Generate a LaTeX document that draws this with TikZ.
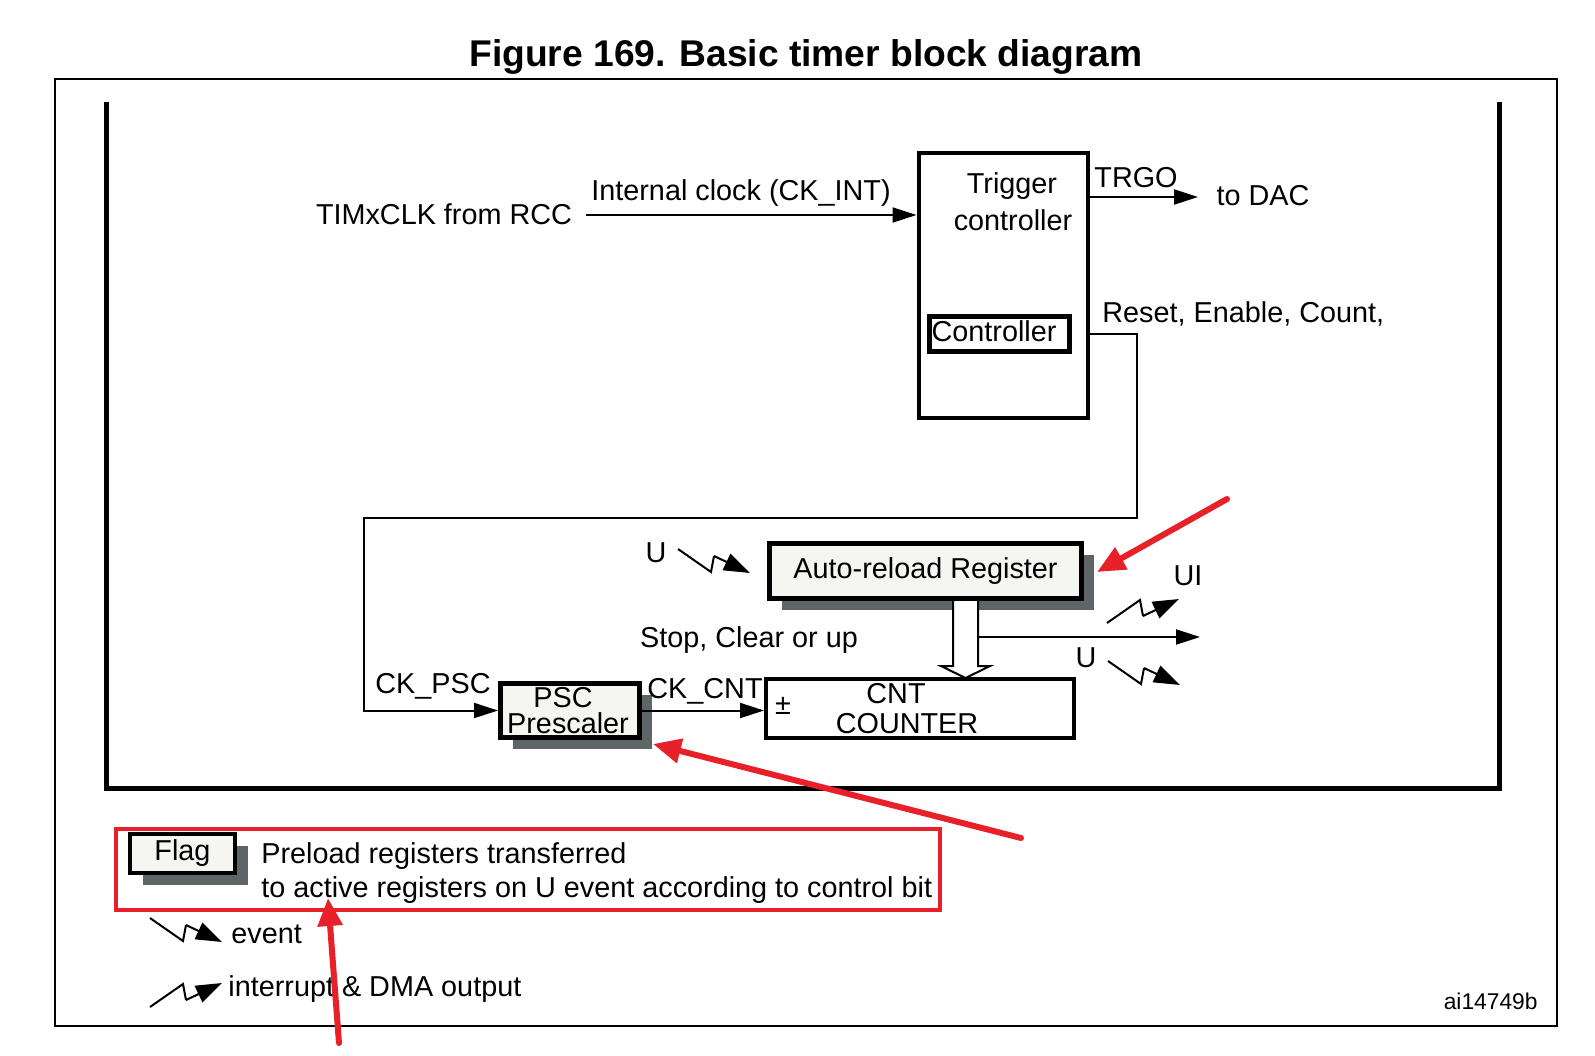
\documentclass[tikz,border=0pt]{standalone}
\usepackage{fontspec}
\setmainfont{Liberation Sans}
\usetikzlibrary{arrows.meta,shadows,calc}
\definecolor{boxfill}{HTML}{F5F5F2}
\definecolor{shgray}{HTML}{5E6566}
\definecolor{mkred}{HTML}{E8202A}
\tikzset{
  txt/.style={inner sep=0pt,font=\fontsize{14.4}{17}\selectfont},
  thinline/.style={line width=1pt},
  arrowtip/.style={-{Triangle[length=12pt,width=7.5pt]}},
  regbox/.style={draw,fill=boxfill,line width=2.5pt,inner sep=0pt,font=\fontsize{14.4}{17}\selectfont,
    drop shadow={shadow xshift=6.25pt,shadow yshift=-5.75pt,fill=shgray,opacity=1}},
  plainbox/.style={draw,line width=2pt,inner sep=0pt},
  redarrow/.style={draw=mkred,line width=3pt,line cap=round,-{Triangle[length=14pt,width=12pt]}},
  evtsym/.pic={
    \draw[line width=1pt,line join=miter] (0,0) -- (33,23) -- (36,7);
    \draw[line width=1pt,-{Triangle[length=13pt,width=9pt]}] (36,7) -- (72,24);
  },
  intrsym/.pic={
    \draw[line width=1pt,line join=miter] (0,0) -- (33,-23) -- (36,-7);
    \draw[line width=1pt,-{Triangle[length=13pt,width=9pt]}] (36,-7) -- (72,-24);
  }
}
\begin{document}
\begin{tikzpicture}[x=0.5pt,y=-0.5pt]
\useasboundingbox (0,0) rectangle (1595,1055);
\fill[white] (0,0) rectangle (1595,1055);

% title
\node[txt,font=\bfseries\fontsize{18.6}{22}\selectfont,anchor=base] (title) at (806,66) {Figure 169. Basic timer block diagram};

% frames
\draw[line width=1.1pt] (55,79) rectangle (1557,1026);
\draw[line width=2.5pt] (106,102) -- (106,788) -- (1499,788) -- (1499,102);

% trigger controller
\node[plainbox,minimum width=84.5pt,minimum height=132.5pt] (trig) at (1003,285.5) {};
\node[txt,anchor=base] (trigA) at (1012,193) {Trigger};
\node[txt,anchor=base] (trigB) at (1013,230) {controller};
\node[plainbox,line width=2.5pt,minimum width=70pt,minimum height=17.5pt] (ctrl) at (999.5,334) {};
\node[txt,anchor=base] (ctrltxt) at (994,341) {Controller};

% clock input
\node[txt,anchor=base] (timx) at (444,224) {TIMxCLK from RCC};
\coordinate (clkin) at (586,215);
\draw[thinline,arrowtip] (clkin) -- (clkin -| trig.west);
\node[txt,anchor=base] (ckint) at (741,200) {Internal clock (CK\_INT)};

% TRGO
\coordinate (dac) at (1198,197);
\draw[thinline,arrowtip] (dac -| trig.east) -- (dac);
\node[txt,anchor=base] (trgo) at (1136,187) {TRGO};
\node[txt,anchor=base] (todac) at (1263,205) {to DAC};

% prescaler
\node[regbox,minimum width=69.5pt,minimum height=27pt] (psc) at (570,710.5) {};
\node[txt,anchor=base] (psctxtA) at (563,707) {PSC};
\node[txt,anchor=base] (psctxtB) at (568,733) {Prescaler};
\node[txt,anchor=base] (ckpsc) at (433,693) {CK\_PSC};

% reset path
\node[txt,anchor=base west] (rec) at (1102,322) {Reset, Enable, Count,};
\coordinate (r1) at (1137,334);
\coordinate (r2) at (1137,518);
\coordinate (r3) at (364,518);
\draw[thinline,arrowtip] (r1 -| trig.east) -- (r1) -- (r2) -- (r3) |- (psc.west);

% auto-reload
\node[regbox,minimum width=156pt,minimum height=27.5pt] (arr) at (925.5,571) {Auto-reload Register};

% counter
\node[plainbox,minimum width=154pt,minimum height=29.5pt] (cnt) at (920,708.5) {};
\node[txt,anchor=base] (cnttxtA) at (896,703) {CNT};
\node[txt,anchor=base] (cnttxtB) at (907,733) {COUNTER};
\node[txt] (pm) at (783,706) {±};

% CK_CNT
\draw[thinline,arrowtip] (psc.east) -- (psc.east -| cnt.west);
\node[txt,anchor=base west] (ckcnt) at (647,698) {CK\_CNT};

% hollow arrow
\draw[line width=1pt,fill=white,line join=miter] (953,601) -- (953,666) -- (941,666) -- (965.5,678) -- (990,666) -- (978,666) -- (978,601);
\coordinate (shaftR) at (978,637);
\coordinate (uo) at (1200,637);
\draw[thinline,arrowtip] (shaftR) -- (uo);

% events
\pic at (678,549) {evtsym};
\node[txt,anchor=base] (uA) at (656,562) {U};
\pic at (1107,623) {intrsym};
\node[txt,anchor=base] (ui) at (1188,585) {UI};
\pic at (1108,661) {evtsym};
\node[txt,anchor=base] (uB) at (1086,667) {U};
\node[txt,anchor=base] (stop) at (749,647) {Stop, Clear or up};

% legend
\node[draw=mkred,line width=2pt,minimum width=412pt,minimum height=40.5pt,inner sep=0pt] (legend) at (528,869.5) {};
\node[regbox,line width=2pt,minimum width=52.5pt,minimum height=19.5pt] (flag) at (182.5,853.5) {Flag};
\node[txt,anchor=base west] (lgA) at (261,863) {Preload registers transferred};
\node[txt,anchor=base west] (lgB) at (261,897) {to active registers on U event according to control bit};
\pic at (150,918) {evtsym};
\node[txt,anchor=base west] (lgevt) at (231,943) {event};
\pic at (150,1007) {intrsym};
\node[txt,anchor=base west] (lgint) at (228,996) {interrupt \& DMA output};
\node[txt,anchor=base east,font=\fontsize{11.4}{13}\selectfont] (code) at (1538,1009) {ai14749b};

% red arrows
\coordinate (ra1s) at (1227,499);
\coordinate (ra1t) at (1097,572);
\coordinate (ra2s) at (1021,838);
\coordinate (ra2t) at (653,744);
\coordinate (ra3s) at (339,1043);
\coordinate (ra3t) at (328,898);
\draw[redarrow] (ra1s) -- (ra1t);
\draw[redarrow] (ra2s) -- (ra2t);
\draw[redarrow] (ra3s) -- (ra3t);
\end{tikzpicture}
\end{document}
